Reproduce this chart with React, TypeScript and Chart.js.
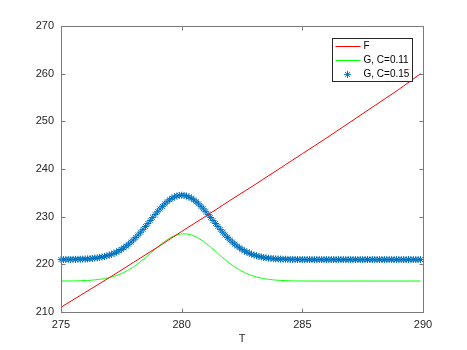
import React, { useEffect, useRef } from "react";
import { Chart, registerables } from "chart.js";

Chart.register(...registerables);

// ---------- data ----------
const X_TICKS = [275, 280, 285, 290];
const Y_TICKS = [210, 220, 230, 240, 250, 260, 270];
const X_LABEL = "T";
const SERIES_LABELS = ["F", "G, C=0.11", "G, C=0.15"];

const T_F = [275, 276, 277, 278, 279, 280, 281, 282, 283, 284, 285, 286, 287, 288, 289, 289.9];
const F_VALUES = [211.0, 214.1, 217.2, 220.4, 223.6, 226.9, 230.1, 233.4, 236.6, 239.9, 243.2, 246.5, 249.9, 253.3, 256.7, 260.0];

const T_G011 = [
  275.0, 275.6, 276.0, 276.2, 276.4, 276.6, 276.8, 277.0, 277.2, 277.4,
  277.6, 277.8, 278.0, 278.2, 278.4, 278.6, 278.8, 279.0, 279.2, 279.4,
  279.6, 279.8, 280.0, 280.2, 280.4, 280.6, 280.8, 281.0, 281.2, 281.4,
  281.6, 281.8, 282.0, 282.2, 282.4, 282.6, 282.8, 283.0, 283.2, 283.4,
  283.6, 283.8, 284.0, 284.2, 284.6, 285.2, 289.9,
];
const G011_VALUES = [
  216.50, 216.52, 216.60, 216.65, 216.74, 216.85, 217.00, 217.21, 217.49, 217.84,
  218.28, 218.82, 219.45, 220.18, 220.98, 221.84, 222.73, 223.60, 224.43, 225.15,
  225.75, 226.16, 226.37, 226.37, 226.16, 225.75, 225.15, 224.43, 223.60, 222.73,
  221.84, 220.98, 220.18, 219.45, 218.82, 218.28, 217.84, 217.49, 217.21, 217.00,
  216.85, 216.74, 216.65, 216.60, 216.52, 216.50, 216.50,
];

const T_G015 = [
  275.0, 275.1, 275.2, 275.3, 275.4, 275.5, 275.6, 275.7, 275.8, 275.9,
  276.0, 276.1, 276.2, 276.3, 276.4, 276.5, 276.6, 276.7, 276.8, 276.9,
  277.0, 277.1, 277.2, 277.3, 277.4, 277.5, 277.6, 277.7, 277.8, 277.9,
  278.0, 278.1, 278.2, 278.3, 278.4, 278.5, 278.6, 278.7, 278.8, 278.9,
  279.0, 279.1, 279.2, 279.3, 279.4, 279.5, 279.6, 279.7, 279.8, 279.9,
  280.0, 280.1, 280.2, 280.3, 280.4, 280.5, 280.6, 280.7, 280.8, 280.9,
  281.0, 281.1, 281.2, 281.3, 281.4, 281.5, 281.6, 281.7, 281.8, 281.9,
  282.0, 282.1, 282.2, 282.3, 282.4, 282.5, 282.6, 282.7, 282.8, 282.9,
  283.0, 283.1, 283.2, 283.3, 283.4, 283.5, 283.6, 283.7, 283.8, 283.9,
  284.0, 284.1, 284.2, 284.3, 284.4, 284.5, 284.6, 284.7, 284.8, 284.9,
  285.0, 285.1, 285.2, 285.3, 285.4, 285.5, 285.6, 285.7, 285.8, 285.9,
  286.0, 286.1, 286.2, 286.3, 286.4, 286.5, 286.6, 286.7, 286.8, 286.9,
  287.0, 287.1, 287.2, 287.3, 287.4, 287.5, 287.6, 287.7, 287.8, 287.9,
  288.0, 288.1, 288.2, 288.3, 288.4, 288.5, 288.6, 288.7, 288.8, 288.9,
  289.0, 289.1, 289.2, 289.3, 289.4, 289.5, 289.6, 289.7, 289.8, 289.9,
];
const G015_VALUES = [
  221.00, 221.01, 221.01, 221.02, 221.02, 221.03, 221.04, 221.06, 221.07, 221.09,
  221.12, 221.15, 221.19, 221.23, 221.30, 221.36, 221.45, 221.54, 221.65, 221.78,
  221.95, 222.12, 222.32, 222.57, 222.82, 223.12, 223.46, 223.82, 224.23, 224.66,
  225.13, 225.64, 226.17, 226.74, 227.33, 227.94, 228.56, 229.19, 229.82, 230.44,
  231.04, 231.62, 232.16, 232.68, 233.14, 233.54, 233.88, 234.15, 234.34, 234.46,
  234.50, 234.46, 234.34, 234.15, 233.88, 233.54, 233.14, 232.68, 232.16, 231.62,
  231.04, 230.44, 229.82, 229.19, 228.56, 227.94, 227.33, 226.74, 226.17, 225.64,
  225.13, 224.66, 224.23, 223.82, 223.46, 223.12, 222.82, 222.57, 222.32, 222.12,
  221.95, 221.78, 221.65, 221.54, 221.45, 221.36, 221.30, 221.23, 221.19, 221.15,
  221.12, 221.09, 221.07, 221.06, 221.04, 221.03, 221.02, 221.02, 221.01, 221.01,
  221.00, 221.00, 221.00, 221.00, 221.00, 221.00, 221.00, 221.00, 221.00, 221.00,
  221.00, 221.00, 221.00, 221.00, 221.00, 221.00, 221.00, 221.00, 221.00, 221.00,
  221.00, 221.00, 221.00, 221.00, 221.00, 221.00, 221.00, 221.00, 221.00, 221.00,
  221.00, 221.00, 221.00, 221.00, 221.00, 221.00, 221.00, 221.00, 221.00, 221.00,
  221.00, 221.00, 221.00, 221.00, 221.00, 221.00, 221.00, 221.00, 221.00, 221.00,
];

// ---------- styles ----------
const FONT = "'Liberation Sans', Arial, Helvetica, sans-serif";
const AXIS_COLOR = "#7a7a7a";
const TEXT_COLOR = "#262626";
const RED = "#ff0000";
const GREEN = "#00ff00";
const BLUE = "#0072bd";

const zip = (xs: number[], ys: number[]) => xs.map((x, i) => ({ x, y: ys[i] }));

const framePlugin = {
  id: "matlabFrame",
  afterDatasetsDraw(chart: any) {
    const { ctx, chartArea: a, scales } = chart;
    const L = Math.round(a.left) + 0.5;
    const R = Math.round(a.right) + 0.5;
    const T = Math.round(a.top) + 0.5;
    const B = Math.round(a.bottom) + 0.5;
    const tl = 4;
    ctx.save();
    ctx.strokeStyle = AXIS_COLOR;
    ctx.lineWidth = 1;
    ctx.strokeRect(L, T, R - L, B - T);
    ctx.beginPath();
    scales.x.ticks.forEach((t: any) => {
      const px = Math.round(scales.x.getPixelForValue(t.value)) + 0.5;
      ctx.moveTo(px, B);
      ctx.lineTo(px, B - tl);
      ctx.moveTo(px, T);
      ctx.lineTo(px, T + tl);
    });
    scales.y.ticks.forEach((t: any) => {
      const py = Math.round(scales.y.getPixelForValue(t.value)) + 0.5;
      ctx.moveTo(L, py);
      ctx.lineTo(L + tl, py);
      ctx.moveTo(R, py);
      ctx.lineTo(R - tl, py);
    });
    ctx.stroke();
    ctx.restore();
  },
  afterDraw(chart: any) {
    const { ctx, chartArea: a } = chart;
    const boxW = 80;
    const boxH = 43;
    const bx = Math.round(a.right - 11.5 - boxW) + 0.5;
    const by = Math.round(a.top + 11.5) + 0.5;
    ctx.save();
    ctx.fillStyle = "#ffffff";
    ctx.fillRect(bx, by, boxW, boxH);
    ctx.strokeStyle = "#262626";
    ctx.lineWidth = 1;
    ctx.strokeRect(bx, by, boxW, boxH);
    ctx.font = `10px ${FONT}`;
    ctx.textBaseline = "middle";
    ctx.textAlign = "left";
    chart.data.datasets.forEach((ds: any, i: number) => {
      const cy = by + 7.5 + i * 14.2;
      if (ds.showLine === false) {
        const cx = bx + 15;
        const r = 3.5;
        ctx.strokeStyle = ds.borderColor;
        ctx.lineWidth = 1;
        ctx.beginPath();
        for (let k = 0; k < 4; k++) {
          const ang = (k * Math.PI) / 4;
          ctx.moveTo(cx - Math.cos(ang) * r, cy - Math.sin(ang) * r);
          ctx.lineTo(cx + Math.cos(ang) * r, cy + Math.sin(ang) * r);
        }
        ctx.stroke();
      } else {
        ctx.strokeStyle = ds.borderColor;
        ctx.lineWidth = 1;
        ctx.beginPath();
        ctx.moveTo(bx + 3, Math.round(cy) + 0.5);
        ctx.lineTo(bx + 28, Math.round(cy) + 0.5);
        ctx.stroke();
      }
      ctx.fillStyle = "#000000";
      ctx.fillText(ds.label, bx + 31, cy);
    });
    ctx.restore();
  },
};

export default function App() {
  const canvasRef = useRef<HTMLCanvasElement | null>(null);

  useEffect(() => {
    const canvas = canvasRef.current;
    if (!canvas) return;
    const chart = new Chart(canvas, {
      type: "line",
      data: {
        datasets: [
          {
            label: SERIES_LABELS[0],
            data: zip(T_F, F_VALUES),
            borderColor: RED,
            borderWidth: 1,
            pointRadius: 0,
            tension: 0,
            fill: false,
          },
          {
            label: SERIES_LABELS[1],
            data: zip(T_G011, G011_VALUES),
            borderColor: GREEN,
            borderWidth: 1,
            pointRadius: 0,
            tension: 0.2,
            fill: false,
          },
          {
            label: SERIES_LABELS[2],
            data: zip(T_G015, G015_VALUES),
            borderColor: BLUE,
            backgroundColor: BLUE,
            showLine: false,
            pointStyle: "star",
            pointRadius: 3.5,
            pointBorderWidth: 1,
            clip: false as any,
          },
        ],
      },
      options: {
        responsive: false,
        animation: false,
        devicePixelRatio: 1,
        events: [],
        layout: { padding: { left: 0, top: 26, right: 44, bottom: 0 } },
        plugins: {
          legend: { display: false },
          tooltip: { enabled: false },
        },
        scales: {
          x: {
            type: "linear",
            min: X_TICKS[0],
            max: X_TICKS[X_TICKS.length - 1],
            afterBuildTicks: (s: any) => {
              s.ticks = X_TICKS.map((v) => ({ value: v }));
            },
            afterFit: (s: any) => {
              s.height = 38;
            },
            grid: { display: false, drawTicks: false },
            border: { display: false },
            ticks: {
              color: TEXT_COLOR,
              font: { family: FONT, size: 11 },
              padding: 6,
              maxRotation: 0,
              autoSkip: false,
            },
            title: {
              display: true,
              text: X_LABEL,
              color: TEXT_COLOR,
              font: { family: FONT, size: 11 },
              padding: { top: 0, bottom: 4 },
            },
          },
          y: {
            type: "linear",
            min: Y_TICKS[0],
            max: Y_TICKS[Y_TICKS.length - 1],
            afterBuildTicks: (s: any) => {
              s.ticks = Y_TICKS.map((v) => ({ value: v }));
            },
            afterFit: (s: any) => {
              s.width = 61;
            },
            grid: { display: false, drawTicks: false },
            border: { display: false },
            ticks: {
              color: TEXT_COLOR,
              font: { family: FONT, size: 11 },
              padding: 7,
              autoSkip: false,
            },
          },
        },
      },
      plugins: [framePlugin],
    });
    return () => chart.destroy();
  }, []);

  return (
    <div style={{ position: "absolute", left: 0, top: 0, width: 467, height: 350, background: "#fff" }}>
      <canvas ref={canvasRef} width={467} height={350} style={{ display: "block" }} />
    </div>
  );
}
